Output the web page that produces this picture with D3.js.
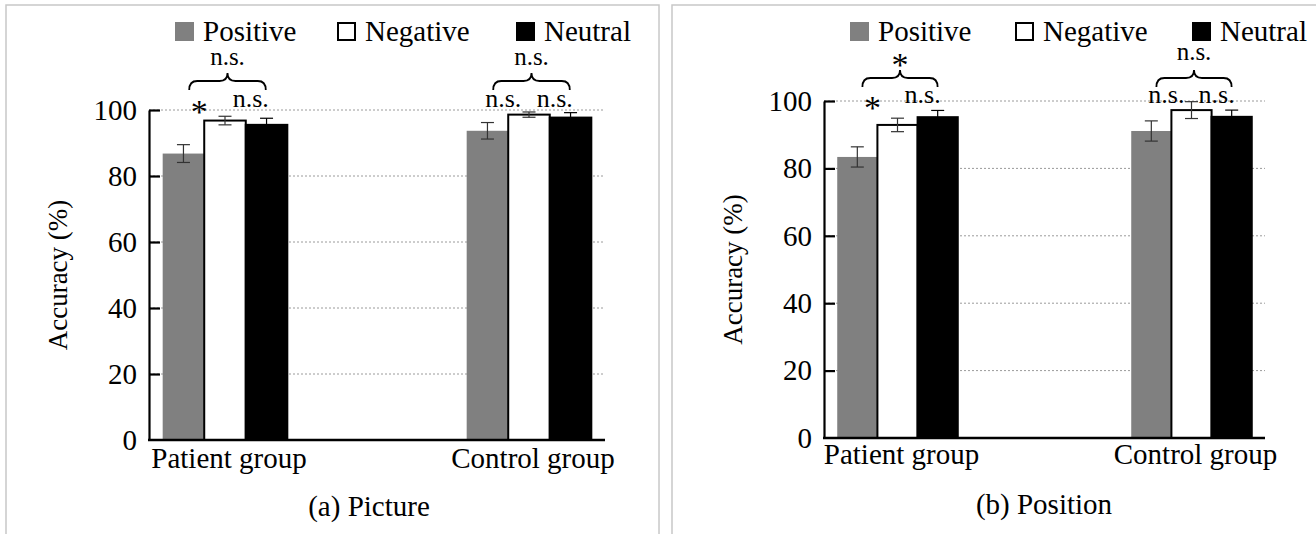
<!DOCTYPE html>
<html>
<head>
<meta charset="utf-8">
<script src="https://cdn.jsdelivr.net/npm/d3@7"></script>
</head>
<body style="margin:0">
<svg id="chart" width="1316" height="534"></svg>
<script>
// Data
const groups = ["Patient group", "Control group"];
const series = ["Positive", "Negative", "Neutral"];
const yTicks = [0, 20, 40, 60, 80, 100];

// mean accuracy (%) by group, then series
const pictureMeans = [[86.8, 96.8, 95.5], [93.7, 98.6, 97.7]];
const pictureErr = [[2.7, 1.3, 2.0], [2.5, 0.8, 1.5]];
const positionMeans = [[83.4, 92.9, 95.2], [91.1, 97.3, 95.3]];
const positionErr = [[3.0, 2.0, 2.0], [3.0, 2.5, 2.0]];

// significance marks: [Positive vs Negative, Negative vs Neutral, over the brace]
const pictureMarks = [["*", "n.s.", "n.s."], ["n.s.", "n.s.", "n.s."]];
const positionMarks = [["*", "n.s.", "*"], ["n.s.", "n.s.", "n.s."]];

const colors = {Positive: "#808080", Negative: "#ffffff", Neutral: "#000000"};

const svg = d3.select("#chart");

const panels = [
  {caption: "(a) Picture", means: pictureMeans, err: pictureErr, marks: pictureMarks,
   frame: [6, 5, 653, 540], x0: 149, x1: 605, yBase: 440, yTop: 110, titleX: 58,
   legendX: [175, 337, 516], markY: 107, braceY: 73, topY: 65, labelY: 468,
   captionX: 369, captionY: 516},
  {caption: "(b) Position", means: positionMeans, err: positionErr, marks: positionMarks,
   frame: [672, 5, 660, 540], x0: 824, x1: 1265, yBase: 438, yTop: 101, titleX: 733,
   legendX: [850, 1015, 1192], markY: 103, braceY: 70, topY: 60, labelY: 464,
   captionX: 1044, captionY: 514}
];

function txt(sel, size) {
  return sel.style("font-family", '"Liberation Serif"')
      .attr("font-size", size)
      .attr("fill", "#000");
}

panels.forEach(function(p) {
  // panel frame
  svg.append("rect")
      .attr("x", p.frame[0]).attr("y", p.frame[1])
      .attr("width", p.frame[2]).attr("height", p.frame[3])
      .attr("fill", "none").attr("stroke", "#c8c8c8").attr("stroke-width", 1.5);

  const x = d3.scaleBand()
      .domain(groups)
      .range([p.x0, p.x1])
      .paddingInner(0.59)
      .paddingOuter(0.045);

  const xs = d3.scaleBand()
      .domain(series)
      .range([0, x.bandwidth()]);

  const y = d3.scaleLinear()
      .domain([0, 100])
      .range([p.yBase, p.yTop]);

  const g = svg.append("g");

  // dotted gridlines
  g.selectAll(".grid")
      .data(yTicks.filter(t => t > 0))
      .enter().append("line")
      .attr("x1", p.x0).attr("x2", p.x1)
      .attr("y1", d => y(d)).attr("y2", d => y(d))
      .attr("stroke", "#9a9a9a")
      .attr("stroke-width", 1)
      .attr("stroke-dasharray", "2,2");

  // bars
  groups.forEach(function(grp, gi) {
    series.forEach(function(s, si) {
      const v = p.means[gi][si];
      const e = p.err[gi][si];
      const bx = x(grp) + xs(s);
      g.append("rect")
          .attr("x", bx)
          .attr("y", y(v))
          .attr("width", xs.bandwidth())
          .attr("height", y(0) - y(v))
          .attr("fill", colors[s])
          .attr("stroke", s === "Positive" ? "none" : "#000")
          .attr("stroke-width", 2);

      const cx = bx + xs.bandwidth() / 2;
      const ec = s === "Neutral" ? "#000" : "#333";
      g.append("line")
          .attr("x1", cx).attr("x2", cx)
          .attr("y1", y(v + e)).attr("y2", s === "Neutral" ? y(v) : y(v - e))
          .attr("stroke", ec).attr("stroke-width", 1.2);
      [v + e, v - e].forEach(function(t) {
        if (s === "Neutral" && t < v) return;
        g.append("line")
            .attr("x1", cx - 6.5).attr("x2", cx + 6.5)
            .attr("y1", y(t)).attr("y2", y(t))
            .attr("stroke", ec).attr("stroke-width", 1.2);
      });
    });

    // significance marks
    const b1 = x(grp) + xs("Negative");
    const b2 = x(grp) + xs("Neutral");
    const m = p.marks[gi];
    [[m[0], b1 - 5], [m[1], b2 + 5]].forEach(function(d) {
      const star = d[0] === "*";
      txt(g.append("text"), star ? 34 : 26)
          .attr("x", d[1])
          .attr("y", star ? p.markY + 16 : p.markY)
          .attr("text-anchor", "middle")
          .text(d[0]);
    });

    // curly brace
    const l = b1 - 15, r = b2 + 20, mid = (l + r) / 2;
    const t0 = p.braceY, h = 17, hm = 8;
    g.append("path")
        .attr("d", `M${l},${t0 + h} Q${l},${t0 + hm} ${l + 8},${t0 + hm} L${mid - 8},${t0 + hm}` +
                   ` Q${mid},${t0 + hm} ${mid},${t0} Q${mid},${t0 + hm} ${mid + 8},${t0 + hm}` +
                   ` L${r - 8},${t0 + hm} Q${r},${t0 + hm} ${r},${t0 + h}`)
        .attr("fill", "none")
        .attr("stroke", "#000")
        .attr("stroke-width", 1.8);
    const topStar = m[2] === "*";
    txt(g.append("text"), topStar ? 34 : 25)
        .attr("x", mid)
        .attr("y", topStar ? p.topY + 16 : p.topY)
        .attr("text-anchor", "middle")
        .text(m[2]);
  });

  // y axis
  const yAxis = g.append("g")
      .attr("transform", `translate(${p.x0},0)`)
      .call(d3.axisLeft(y).tickValues(yTicks).tickSize(-11).tickPadding(12).tickSizeOuter(0));
  yAxis.select(".domain").attr("stroke", "#000").attr("stroke-width", 2.2);
  yAxis.selectAll(".tick line").attr("stroke", "#000").attr("stroke-width", 2.2)
      .filter(d => d === 0).remove();
  txt(yAxis.selectAll(".tick text"), 29);

  // x axis line
  g.append("line")
      .attr("x1", p.x0 - 1).attr("x2", p.x1)
      .attr("y1", p.yBase).attr("y2", p.yBase)
      .attr("stroke", "#000").attr("stroke-width", 2.5);

  // group labels
  txt(g.selectAll(".glabel")
      .data(groups)
      .enter().append("text"), 29)
      .attr("x", d => x(d) + x.bandwidth() / 2 + 4)
      .attr("y", p.labelY)
      .attr("text-anchor", "middle")
      .text(d => d);

  // y axis title
  txt(g.append("text"), 27)
      .attr("transform", `translate(${p.titleX},${(p.yBase + p.yTop) / 2}) rotate(-90)`)
      .attr("text-anchor", "middle")
      .attr("dy", "0.35em")
      .text("Accuracy (%)");

  // caption
  txt(g.append("text"), 29)
      .attr("x", p.captionX)
      .attr("y", p.captionY)
      .attr("text-anchor", "middle")
      .text(p.caption);

  // legend
  const legend = g.selectAll(".legend")
      .data(series)
      .enter().append("g")
      .attr("transform", (d, i) => `translate(${p.legendX[i]},22)`);
  legend.append("rect")
      .attr("x", d => d === "Negative" ? 1 : 0)
      .attr("y", d => d === "Negative" ? 1 : 0)
      .attr("width", d => d === "Negative" ? 17 : 19)
      .attr("height", d => d === "Negative" ? 17 : 19)
      .attr("fill", d => colors[d])
      .attr("stroke", d => d === "Negative" ? "#000" : "none")
      .attr("stroke-width", 2);
  txt(legend.append("text"), 29)
      .attr("x", 28)
      .attr("y", 19)
      .text(d => d);
});
</script>
</body>
</html>
